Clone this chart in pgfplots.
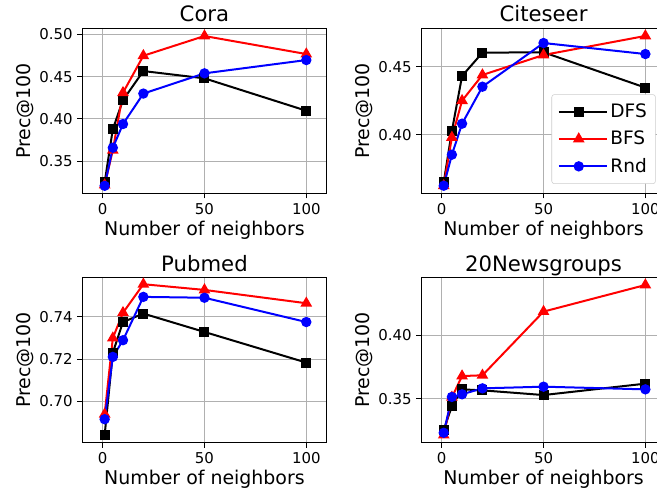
\documentclass[border=0pt]{standalone}
\usepackage{pgfplots}
\pgfplotsset{compat=1.18}
\usepackage{fontspec}
\setmainfont{DejaVu Sans}
\definecolor{gridgray}{HTML}{B0B0B0}
\definecolor{legframe}{HTML}{CCCCCC}
\pgfplotsset{
 every axis title/.style={at={(0.5,1.04)}, anchor=base, font=\fontsize{15.9}{18}\selectfont},
 myax/.style={
  scale only axis, width=183.3pt, height=123.75pt,
  xmin=-10, xmax=110, xtick={0,50,100},
  grid=major, major grid style={gridgray, line width=0.8pt},
  axis line style={line width=0.8pt},
  tick align=outside, xtick pos=bottom, ytick pos=left,
  major tick length=3.75pt, tick style={black, line width=0.8pt},
  /pgf/number format/assume math mode=true,
  ticklabel style={font=\fontsize{11.2}{13}\selectfont},
  yticklabel style={/pgf/number format/.cd, fixed, fixed zerofill, precision=2},
  scaled y ticks=false,
  label style={font=\fontsize{14.2}{16}\selectfont},
  ylabel={Prec@100}, xlabel={Number of neighbors},
  ylabel style={at={(axis description cs:-0.2345,0.5)}, anchor=center},
  xlabel style={at={(axis description cs:0.5,-0.222)}, anchor=center},
  every axis plot/.append style={line width=1.5pt},
 },
 dfs/.style={black, mark=square*, mark size=3pt, mark options={solid}},
 bfs/.style={red, mark=triangle*, mark size=3.6pt, mark options={solid}},
 rnd/.style={blue, mark=*, mark size=3.1pt, mark options={solid}},
}
\begin{document}
\begin{tikzpicture}
\path[use as bounding box] (0,0) rectangle (492.75pt,369pt);
\clip (0,0) rectangle (492.75pt,369pt);
% Cora
\begin{axis}[myax, at={(61.7pt,224pt)}, anchor=south west, title={Cora},
  ymin=0.3121, ymax=0.5071, ytick={0.35,0.40,0.45,0.50}]
\addplot[dfs] coordinates {(1,0.325)(5,0.388)(10,0.4223)(20,0.4566)(50,0.448)(100,0.4097)};
\addplot[bfs] coordinates {(1,0.322)(5,0.363)(10,0.431)(20,0.4747)(50,0.498)(100,0.4767)};
\addplot[rnd] coordinates {(1,0.321)(5,0.366)(10,0.394)(20,0.430)(50,0.4539)(100,0.4696)};
\end{axis}
% Citeseer
\begin{axis}[myax, at={(316pt,224pt)}, anchor=south west, title={Citeseer},
  ymin=0.3569, ymax=0.4782, ytick={0.40,0.45},
  legend style={at={(1,0)}, anchor=south east, xshift=-7.5pt, yshift=7pt,
    draw=legframe, rounded corners=2pt, font=\fontsize{13.9}{15}\selectfont,
    inner xsep=4.5pt, inner ysep=5pt, row sep=4.6pt},
  legend cell align=left,
  legend image code/.code={\draw[mark repeat=2,mark phase=2,#1] plot coordinates {(0pt,0pt) (15pt,0pt) (30pt,0pt)};
    \path (0pt,0pt) -- (36pt,0pt);}]
\addplot[dfs] coordinates {(1,0.365)(5,0.4027)(10,0.4432)(20,0.4603)(50,0.4606)(100,0.4346)};
\addplot[bfs] coordinates {(1,0.3625)(5,0.398)(10,0.425)(20,0.4439)(50,0.4586)(100,0.4726)};
\addplot[rnd] coordinates {(1,0.3625)(5,0.3853)(10,0.4081)(20,0.4353)(50,0.4674)(100,0.4593)};
\legend{DFS,BFS,Rnd}
\end{axis}
% Pubmed
\begin{axis}[myax, at={(61.7pt,37pt)}, anchor=south west, title={Pubmed},
  ymin=0.6805, ymax=0.7586, ytick={0.70,0.72,0.74}]
\addplot[dfs] coordinates {(1,0.6842)(5,0.7231)(10,0.7376)(20,0.7416)(50,0.7329)(100,0.7184)};
\addplot[bfs] coordinates {(1,0.694)(5,0.730)(10,0.742)(20,0.7555)(50,0.7528)(100,0.7465)};
\addplot[rnd] coordinates {(1,0.6916)(5,0.7211)(10,0.729)(20,0.7495)(50,0.7491)(100,0.7376)};
\end{axis}
% 20Newsgroups
\begin{axis}[myax, at={(316pt,37pt)}, anchor=south west, title={20Newsgroups},
  ymin=0.3152, ymax=0.4455, ytick={0.35,0.40}]
\addplot[dfs] coordinates {(1,0.3252)(5,0.3441)(10,0.3573)(20,0.3565)(50,0.3528)(100,0.3618)};
\addplot[bfs] coordinates {(1,0.3212)(5,0.351)(10,0.3678)(20,0.3684)(50,0.4187)(100,0.4397)};
\addplot[rnd] coordinates {(1,0.323)(5,0.3513)(10,0.3534)(20,0.3581)(50,0.3594)(100,0.3573)};
\end{axis}
\end{tikzpicture}
\end{document}
